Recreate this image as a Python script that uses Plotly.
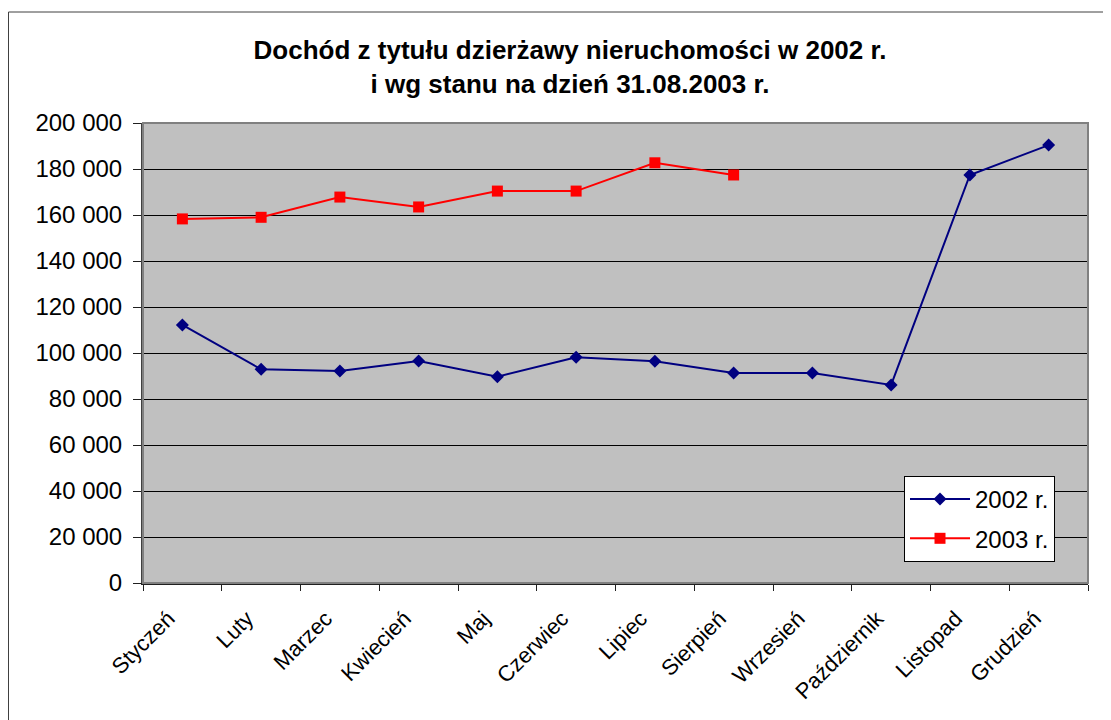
import plotly.graph_objects as go

months = ["Styczeń", "Luty", "Marzec", "Kwiecień", "Maj", "Czerwiec", "Lipiec",
          "Sierpień", "Wrzesień", "Październik", "Listopad", "Grudzień"]
values_2002 = [112200, 92900, 92200, 96500, 89700, 98100, 96400, 91300, 91300, 86100, 177400, 190400]
months_2003 = months[:8]
values_2003 = [158300, 159000, 167800, 163500, 170400, 170400, 182700, 177400]
y_ticks = [0, 20000, 40000, 60000, 80000, 100000, 120000, 140000, 160000, 180000, 200000]
y_tick_labels = ["0", "20 000", "40 000", "60 000", "80 000", "100 000", "120 000",
                 "140 000", "160 000", "180 000", "200 000"]

FONT = "Liberation Sans, Arial, sans-serif"

# page has an 8px body margin; plot area in page px: x 143..1088, y 123..583
L, T = 135, 115
PW, PH = 1088 - 143, 583 - 123

fig = go.Figure()
fig.add_trace(go.Scatter(
    x=months, y=values_2002, name="2002 r.", mode="lines+markers", legendgroup="a",
    line=dict(color="#000080", width=2),
    marker=dict(symbol="diamond", size=10, color="#000080"),
))
fig.add_trace(go.Scatter(
    x=months_2003, y=values_2003, name="2003 r.", mode="lines+markers", legendgroup="b",
    line=dict(color="#FF0000", width=2),
    marker=dict(symbol="square", size=11, color="#FF0000"),
))

fig.update_layout(
    width=1111, height=720,
    margin=dict(l=L, r=1111 - L - PW, t=T, b=720 - T - PH),
    paper_bgcolor="white",
    plot_bgcolor="#C0C0C0",
    font=dict(family=FONT, size=24, color="black"),
    title=dict(
        text="<b>Dochód z tytułu dzierżawy nieruchomości w 2002 r.<br>i wg stanu na dzień 31.08.2003 r.</b>",
        x=562 / 1111, xanchor="center", xref="container",
        y=1 - 51 / 720, yanchor="top", yref="container",
        font=dict(family=FONT, size=26, color="black"),
    ),
    showlegend=True,
    legend=dict(
        x=(904 - 143) / PW, y=(583 - 476) / PH, xanchor="left", yanchor="top",
        bgcolor="white", bordercolor="black", borderwidth=1,
        font=dict(family=FONT, size=24, color="black"),
        tracegroupgap=5, itemwidth=60,
    ),
    xaxis=dict(
        type="category", categoryorder="array", categoryarray=months,
        range=[-0.5, 11.5],
        tickson="boundaries", ticks="outside", ticklen=6, tickcolor="#202020",
        tickangle=-45, showgrid=False, showline=True, linecolor="#202020", linewidth=2,
        ticklabelstandoff=12, ticklabelshift=-14,
        tickfont=dict(family=FONT, size=22, color="black"),
    ),
    yaxis=dict(
        range=[0, 200000], tickvals=y_ticks, ticktext=y_tick_labels,
        ticks="outside", ticklen=8, tickcolor="#202020", ticklabelstandoff=6,
        showgrid=True, gridcolor="black", gridwidth=1,
        showline=True, linecolor="#404040", linewidth=2, zeroline=False,
        tickfont=dict(family=FONT, size=24, color="black"),
    ),
    shapes=[
        dict(type="rect", xref="paper", yref="paper", x0=0, x1=1, y0=0, y1=1,
             line=dict(color="#808080", width=2), fillcolor="rgba(0,0,0,0)", layer="above"),
        dict(type="rect", xref="paper", yref="paper",
             x0=(0.5 - L) / PW, x1=1.1, y0=-0.5, y1=(PH + T - 4) / PH,
             line=dict(color="#404040", width=1), fillcolor="rgba(0,0,0,0)"),
    ],
)

fig.write_html("out.html")
